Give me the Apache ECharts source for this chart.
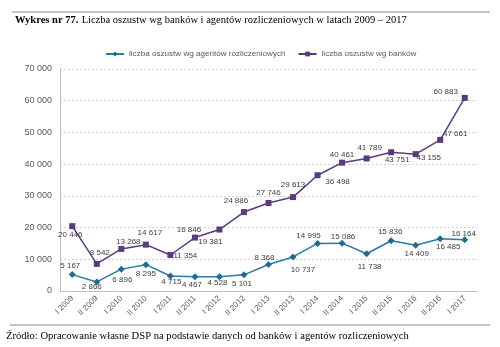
<!DOCTYPE html>
<html><head><meta charset="utf-8">
<script src="https://cdn.jsdelivr.net/npm/echarts@6/dist/echarts.min.js"></script>
<style>html,body{margin:0;padding:0;background:#fff}#c{width:500px;height:347px}</style>
</head><body><div id="c"></div>
<script>
const categories = ["I 2009","II 2009","I 2010","II 2010","I 2011","II 2011","I 2012","II 2012","I 2013","II 2013","I 2014","II 2014","I 2015","II 2015","I 2016","II 2016","I 2017"];
const agentsName = "liczba oszustw wg agentów rozliczeniowych";
const banksName = "liczba oszustw wg banków";
const agentsValues = [5167,2866,6896,8295,4715,4467,4528,5101,8368,10737,14995,15086,11738,15836,14409,16485,16164];
const banksValues = [20446,8542,13268,14617,11354,16846,19381,24886,27746,29613,36498,40461,41789,43751,43155,47661,60883];
const yTicks = [0,10000,20000,30000,40000,50000,60000,70000];
// label offsets (px, relative to point centre) — styling only
const agentsLabelOffset = [[-2,-9],[-5,5],[1,11],[0,9],[1,6],[-3,8],[-2,6],[-2,9],[-4,-7],[10,13],[-9,-8],[1,-6],[3,13],[-1,-9],[1,8],[8,8],[-1,-6]];
const banksLabelOffset = [[-2,9],[3,-11],[7,-7],[4,-12],[15,1],[-6,-8],[-9,12],[-8,-11],[0,-10],[0,-12],[20,7],[0,-8],[3,-11],[6,8],[13,4],[15,-6],[-19,-6]];

const fmt = v => String(v).replace(/\B(?=(\d{3})+(?!\d))/g, " ");
const chart = echarts.init(document.getElementById('c'), null, {renderer:'canvas'});
const mkData = (vals, offs) => vals.map((v,i) => ({value: v, label: {offset: offs[i]}}));
chart.setOption({
  animation: false,
  textStyle: {fontFamily: 'Liberation Sans, Arial, sans-serif'},
  graphic: [
    {type:'line', shape:{x1:12,y1:12,x2:490,y2:12}, style:{stroke:'#888',lineWidth:1}},
    {type:'text', left:15, top:14, style:{
      rich:{b:{fontWeight:'bold',fontFamily:'Liberation Serif, serif',fontSize:10.5,fill:'#000'},
            n:{fontFamily:'Liberation Serif, serif',fontSize:10.5,fill:'#000'}},
      text:'{b|Wykres nr 77.} {n|Liczba oszustw wg banków i agentów rozliczeniowych w latach 2009 – 2017}'}},
    {type:'line', shape:{x1:10,y1:325,x2:490,y2:325}, style:{stroke:'#888',lineWidth:1}},
    {type:'text', left:6, top:331, style:{text:'Źródło: Opracowanie własne DSP na podstawie danych od banków i agentów rozliczeniowych',
      fontFamily:'Liberation Serif, serif', fontSize:10.6, fill:'#000'}}
  ],
  legend: {
    top: 45, left: 100, itemGap: 12, itemWidth: 18, itemHeight: 6,
    textStyle: {fontSize: 8.1, color: '#595959'},
    data: [agentsName, banksName]
  },
  grid: {left: 60, top: 69, width: 417, height: 222, containLabel: false},
  xAxis: {
    type: 'category', data: categories, boundaryGap: true,
    axisLine: {lineStyle: {color: '#bfbfbf'}},
    axisTick: {show: false},
    axisLabel: {rotate: 45, fontSize: 8, color: '#595959', margin: 6, interval: 0}
  },
  yAxis: {
    type: 'value', min: yTicks[0], max: yTicks[yTicks.length-1], interval: 10000,
    axisLine: {show: true, lineStyle: {color: '#bfbfbf'}},
    axisTick: {show: false},
    axisLabel: {fontSize: 9, color: '#595959', margin: 8, formatter: v => fmt(v)},
    splitLine: {lineStyle: {color: '#d0d0d0', type: [2,2]}}
  },
  series: [
    {name: agentsName, type: 'line', data: mkData(agentsValues, agentsLabelOffset),
     symbol: 'diamond', symbolSize: 7,
     itemStyle: {color: '#1f6b92'}, lineStyle: {color: '#2a7aa3', width: 1.5},
     label: {show: true, position: 'inside', fontSize: 8, color: '#404040', formatter: p => fmt(p.value)}},
    {name: banksName, type: 'line', data: mkData(banksValues, banksLabelOffset),
     symbol: 'rect', symbolSize: 6,
     itemStyle: {color: '#5a3a80'}, lineStyle: {color: '#5a3a80', width: 1.5},
     label: {show: true, position: 'inside', fontSize: 8, color: '#404040', formatter: p => fmt(p.value)}}
  ]
});
</script></body></html>
